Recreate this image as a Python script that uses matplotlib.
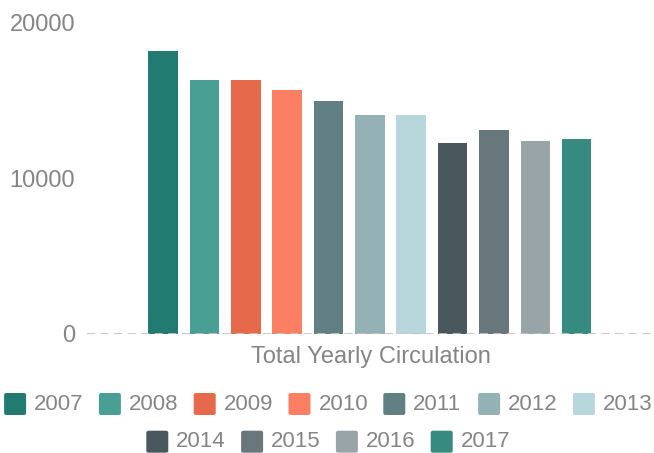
import matplotlib
matplotlib.use("Agg")
import matplotlib.pyplot as plt
from matplotlib.patches import FancyBboxPatch

plt.rcParams['font.family'] = ['Liberation Sans', 'DejaVu Sans']

years = ['2007', '2008', '2009', '2010', '2011', '2012', '2013',
         '2014', '2015', '2016', '2017']
circulation = [18200, 16300, 16350, 15700, 15000, 14100, 14050,
               12250, 13100, 12400, 12550]
colors = ['#217b70', '#4a9f95', '#e5694a', '#fb8063', '#627f83', '#94b1b5',
          '#b8d7dc', '#48585c', '#67777b', '#98a4a8', '#368a80']
yticks = [0, 10000, 20000]
xlabel = 'Total Yearly Circulation'

W, H = 654, 453
fig = plt.figure(figsize=(W / 100, H / 100), dpi=100)
ax = fig.add_axes([87 / W, (H - 334) / H, (W - 87) / W, (334 - 22.8) / H])

x = list(range(len(years)))
ax.bar(x, circulation, width=0.713, color=colors, zorder=2)
ax.axhline(0, color='#c4c4c4', lw=1.3, ls=(0, (4.5, 3)), zorder=3)
ax.set_xlim(-1.84, 11.87)
ax.set_ylim(0, 20000)
ax.set_xticks([])
ax.set_yticks(yticks)
ax.set_yticklabels([str(t) for t in yticks], fontsize=17, color='#858585')
ax.tick_params(axis='y', length=0, pad=8.6)
for s in ax.spines.values():
    s.set_visible(False)

fig.text(371 / W, 1 - 357 / H, xlabel, ha='center', va='center',
         fontsize=17, color='#858585')

# legend, drawn manually (two centered rows)
rows = [list(range(0, 7)), list(range(7, 11))]
row_y = [404, 441.7]
pitch = 94.8
sq = 22
item_w = 77
for r, idx in enumerate(rows):
    total = (len(idx) - 1) * pitch + item_w
    x0 = 327 - total / 2
    for k, i in enumerate(idx):
        left = x0 + k * pitch
        cy = row_y[r]
        p = FancyBboxPatch((left / W, 1 - (cy + sq / 2) / H),
                           sq / W, sq / H,
                           boxstyle='round,pad=0,rounding_size=0.004',
                           transform=fig.transFigure, facecolor=colors[i],
                           edgecolor='none')
        fig.patches.append(p)
        fig.text((left + 30) / W, 1 - cy / H, years[i], ha='left',
                 va='center', fontsize=16, color='#858585')

fig.savefig('out.png', dpi=100)
